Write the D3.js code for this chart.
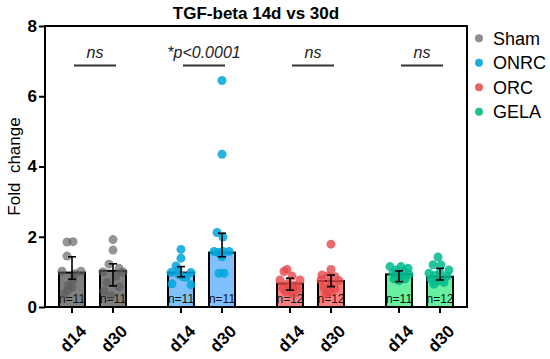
<!DOCTYPE html>
<html>
<head>
<meta charset="utf-8">
<script src="https://cdn.jsdelivr.net/npm/d3@7"></script>
<style>
  body { margin: 0; background: #fff; }
  svg { font-family: "Liberation Sans", Arial, sans-serif; }
</style>
</head>
<body>
<div id="chart"></div>
<script>
// TGF-beta fold change, 14d vs 30d, bar + scatter

const groups = ['Sham', 'ONRC', 'ORC', 'GELA'];
const days = ['d14', 'd30'];

// bar heights (group x day)
const barValues = [
    [0.98, 1.03],
    [0.98, 1.55],
    [0.67, 0.74],
    [0.93, 0.86]
];
const errHigh = [
    [1.43, 1.23],
    [1.15, 2.10],
    [0.82, 0.91],
    [1.03, 1.10]
];
const errLow = [
    [0.79, 0.60],
    [0.86, 1.43],
    [0.48, 0.58],
    [0.72, 0.77]
];
const nLabels = [
    ['n=11', 'n=11'],
    ['n=11', 'n=11'],
    ['n=12', 'n=12'],
    ['n=11', 'n=12']
];

// individual points: [x jitter in px, value]
const points = [
    [
        [[-5, 1.85], [1, 1.86], [-5, 1.45], [-10, 1.02], [9, 1.02], [3, 0.95], [1, 0.77], [-4, 0.62], [0, 0.56], [-4, 0.48], [-8, 0.38]],
        [[0, 1.92], [0, 1.62], [-4, 1.22], [6, 1.1], [-10, 1.0], [10, 1.0], [3, 0.88], [-6, 0.7], [6, 0.58], [-9, 0.45], [-2, 0.32]]
    ],
    [
        [[0, 1.64], [0, 1.39], [-5, 1.17], [-3, 1.05], [-10, 0.98], [10, 0.98], [2, 0.86], [-2, 0.92], [-9, 0.66], [10, 0.63], [5, 0.85]],
        [[0, 6.45], [0, 4.35], [-5, 2.12], [1, 1.99], [-8, 1.58], [1, 1.58], [7, 1.58], [0, 1.43], [-3, 0.96], [2, 0.96], [-4, 1.55]]
    ],
    [
        [[-3, 1.07], [-6, 1.01], [2, 0.88], [-10, 0.77], [10, 0.77], [-2, 0.67], [5, 0.62], [-7, 0.53], [3, 0.53], [8, 0.5], [-4, 0.43], [3, 0.37]],
        [[0, 1.79], [0, 1.07], [-9, 0.91], [-3, 0.88], [4, 0.86], [8, 0.75], [-10, 0.77], [-1, 0.67], [-7, 0.55], [4, 0.52], [-2, 0.42], [-5, 0.37]]
    ],
    [
        [[-9, 1.15], [2, 1.15], [9, 1.10], [-3, 1.05], [5, 1.02], [-6, 0.97], [1, 0.9], [10, 0.93], [-5, 0.8], [0, 0.75], [6, 0.8]],
        [[-2, 1.42], [-7, 1.2], [1, 1.2], [9, 1.05], [-11, 0.96], [0, 0.98], [-5, 0.9], [7, 0.88], [-9, 0.8], [-1, 0.75], [4, 0.7], [-6, 0.65]]
    ]
];

const sigLabels = ['ns', '*p<0.0001', 'ns', 'ns'];
const yTicks = [0, 2, 4, 6, 8];

const barFill = ['#7f7f7f', '#80c0ff', '#ff8080', '#66f0a0'];
const dotFill = ['#5c5c5c', '#00a6dc', '#e54848', '#00b88e'];
const dotAlpha = [0.65, 0.85, 0.8, 0.85];
const legendFill = ['#8e8e8e', '#1aaedc', '#e86464', '#1ec096'];

const width = 550, height = 359;
const margin = { top: 26, right: 83, bottom: 52, left: 45 };

const svg = d3.select('#chart').append('svg')
    .attr('width', width)
    .attr('height', height);

const y = d3.scaleLinear()
    .domain([0, 8])
    .range([height - margin.bottom, margin.top]);

const xGroup = d3.scalePoint()
    .domain(groups)
    .range([92.5, 419.5]);

const xDay = d3.scalePoint()
    .domain(days)
    .range([-20.5, 20.5]);

const barWidth = 26;

// flatten to one row per bar
const bars = [];
groups.forEach((g, gi) => {
    days.forEach((d, di) => {
        bars.push({
            group: g, gi: gi, day: d,
            cx: xGroup(g) + xDay(d),
            value: barValues[gi][di],
            hi: errHigh[gi][di],
            lo: errLow[gi][di],
            n: nLabels[gi][di],
            pts: points[gi][di]
        });
    });
});

// bars
svg.selectAll('rect.bar')
    .data(bars)
    .enter().append('rect')
    .attr('class', 'bar')
    .attr('x', d => d.cx - barWidth / 2)
    .attr('y', d => y(d.value))
    .attr('width', barWidth)
    .attr('height', d => y(0) - y(d.value))
    .style('fill', d => barFill[d.gi])
    .style('stroke', '#000')
    .style('stroke-width', 2);

// n labels
svg.selectAll('text.nlab')
    .data(bars)
    .enter().append('text')
    .attr('x', d => d.cx)
    .attr('y', y(0) - 4)
    .attr('text-anchor', 'middle')
    .style('font-size', '12px')
    .style('fill', '#111')
    .text(d => d.n);

// dots
bars.forEach(b => {
    svg.selectAll(null)
        .data(b.pts)
        .enter().append('circle')
        .attr('cx', p => b.cx + p[0])
        .attr('cy', p => y(p[1]))
        .attr('r', 4.5)
        .style('fill', dotFill[b.gi])
        .style('fill-opacity', dotAlpha[b.gi]);
});

// error bars
const err = svg.selectAll('g.err')
    .data(bars)
    .enter().append('g')
    .style('stroke', '#000')
    .style('stroke-width', 1.6);

err.append('line')
    .attr('x1', d => d.cx).attr('x2', d => d.cx)
    .attr('y1', d => y(d.hi)).attr('y2', d => y(d.lo));
err.append('line')
    .attr('x1', d => d.cx - 4).attr('x2', d => d.cx + 4)
    .attr('y1', d => y(d.hi)).attr('y2', d => y(d.hi));
err.append('line')
    .attr('x1', d => d.cx - 4).attr('x2', d => d.cx + 4)
    .attr('y1', d => y(d.lo)).attr('y2', d => y(d.lo));

// frame
const x0 = margin.left, x1 = width - margin.right;
svg.append('rect')
    .attr('x', x0)
    .attr('y', margin.top)
    .attr('width', x1 - x0)
    .attr('height', y(0) - margin.top)
    .style('fill', 'none')
    .style('stroke', '#000')
    .style('stroke-width', 2);

// y axis
const yAxis = svg.append('g')
    .attr('transform', `translate(${x0},0)`)
    .call(d3.axisLeft(y).tickValues(yTicks).tickSize(6).tickFormat(d3.format('d')));
yAxis.select('.domain').remove();
yAxis.selectAll('line').style('stroke-width', 2);
yAxis.selectAll('text')
    .style('font-size', '17px')
    .style('font-weight', 'bold')
    .style('font-family', '"Liberation Sans", Arial, sans-serif')
    .attr('x', -8)
    .attr('fill', '#000');

// x ticks + rotated labels
svg.selectAll('line.xt')
    .data(bars)
    .enter().append('line')
    .attr('x1', d => d.cx).attr('x2', d => d.cx)
    .attr('y1', y(0)).attr('y2', y(0) + 6)
    .style('stroke', '#000')
    .style('stroke-width', 2);

svg.selectAll('text.xl')
    .data(bars)
    .enter().append('text')
    .attr('transform', d => `translate(${d.cx + 7},${y(0) + 17}) rotate(-45)`)
    .attr('text-anchor', 'end')
    .attr('dy', '0.7em')
    .style('font-size', '17px')
    .style('font-weight', 'bold')
    .text(d => d.day);

// significance lines
groups.forEach((g, gi) => {
    const xa = xGroup(g) + xDay('d14') + 2;
    const xb = xGroup(g) + xDay('d30') + 3;
    svg.append('line')
        .attr('x1', xa).attr('x2', xb)
        .attr('y1', 65.5).attr('y2', 65.5)
        .style('stroke', '#333')
        .style('stroke-width', 1.8);
    svg.append('text')
        .attr('x', (xa + xb) / 2)
        .attr('y', 58)
        .attr('text-anchor', 'middle')
        .style('font-size', '16px')
        .style('font-style', 'italic')
        .style('fill', '#222')
        .text(sigLabels[gi]);
});

// title
svg.append('text')
    .attr('x', (x0 + x1) / 2)
    .attr('y', 19)
    .attr('text-anchor', 'middle')
    .style('font-size', '17px')
    .style('font-weight', 'bold')
    .text('TGF-beta 14d vs 30d');

// y label
svg.append('text')
    .attr('transform', `translate(20,${(margin.top + y(0)) / 2}) rotate(-90)`)
    .attr('text-anchor', 'middle')
    .style('font-size', '17px')
    .style('white-space', 'pre')
    .text('Fold  change');

// legend
const legend = svg.selectAll('g.leg')
    .data(groups)
    .enter().append('g')
    .attr('transform', (d, i) => `translate(479,${38.3 + i * 24.5})`);
legend.append('circle')
    .attr('r', 4)
    .style('fill', (d, i) => legendFill[i]);
legend.append('text')
    .attr('x', 14)
    .attr('dy', '0.36em')
    .style('font-size', '18px')
    .text(d => d);
</script>
</body>
</html>
